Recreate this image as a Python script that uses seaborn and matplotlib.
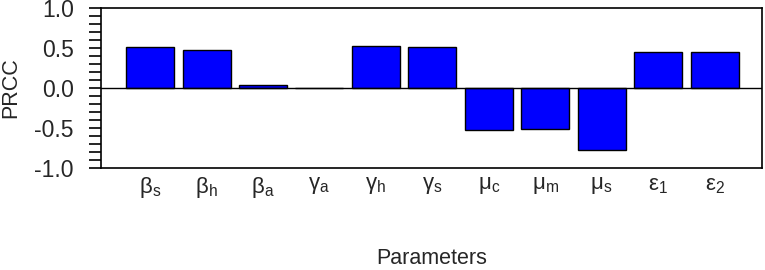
import numpy as np
import pandas as pd
import matplotlib
matplotlib.use('Agg')
import matplotlib.pyplot as plt
import seaborn as sns
from matplotlib.ticker import MultipleLocator

# PRCC values per parameter
params = ['β_s', 'β_h', 'β_a', 'γ_a', 'γ_h', 'γ_s', 'μ_c', 'μ_m', 'μ_s', 'ε_1', 'ε_2']
prcc = [0.51, 0.475, 0.04, 0.0, 0.53, 0.51, -0.53, -0.51, -0.77, 0.445, 0.445]

sns.set_style('ticks')
plt.rcParams['font.family'] = ['Liberation Sans', 'DejaVu Sans']
plt.rcParams['mathtext.fontset'] = 'custom'
plt.rcParams['mathtext.rm'] = 'Liberation Sans'

df = pd.DataFrame({'param': params, 'prcc': prcc})

fig = plt.figure(figsize=(7.65, 2.7), dpi=100)
ax = fig.add_axes([0.132, 0.378, 0.864, 0.592])

sns.barplot(data=df, x='param', y='prcc', color='#0000ff', saturation=1,
            edgecolor='black', linewidth=1.0, width=0.85, ax=ax)
ax.axhline(0, color='black', linewidth=1.0, zorder=3)

ax.set_ylim(-1.0, 1.0)
ax.set_xlim(-0.87, 10.84)
ax.yaxis.set_major_locator(MultipleLocator(0.5))
ax.yaxis.set_minor_locator(MultipleLocator(0.1))
ax.set_yticklabels([f'{v:.1f}' for v in ax.get_yticks()])
ax.tick_params(axis='y', which='both', direction='out', length=8.5, width=1.2,
               color='black', labelsize=16.5, pad=11)
ax.tick_params(axis='x', length=0, labelsize=16, pad=5)
ax.set_xticks(range(len(params)))
ax.set_xticklabels([f'$\\mathregular{{{p}}}$' for p in params])

for s in ax.spines.values():
    s.set_visible(True)
    s.set_color('black')
    s.set_linewidth(1.2)

ax.set_ylabel('PRCC', fontsize=15.5)
ax.yaxis.set_label_coords(-0.121, 0.5)
ax.set_xlabel('Parameters', fontsize=15.5)
ax.xaxis.set_label_coords(0.5, -0.5)

fig.savefig('out.png', dpi=100, facecolor='white')
